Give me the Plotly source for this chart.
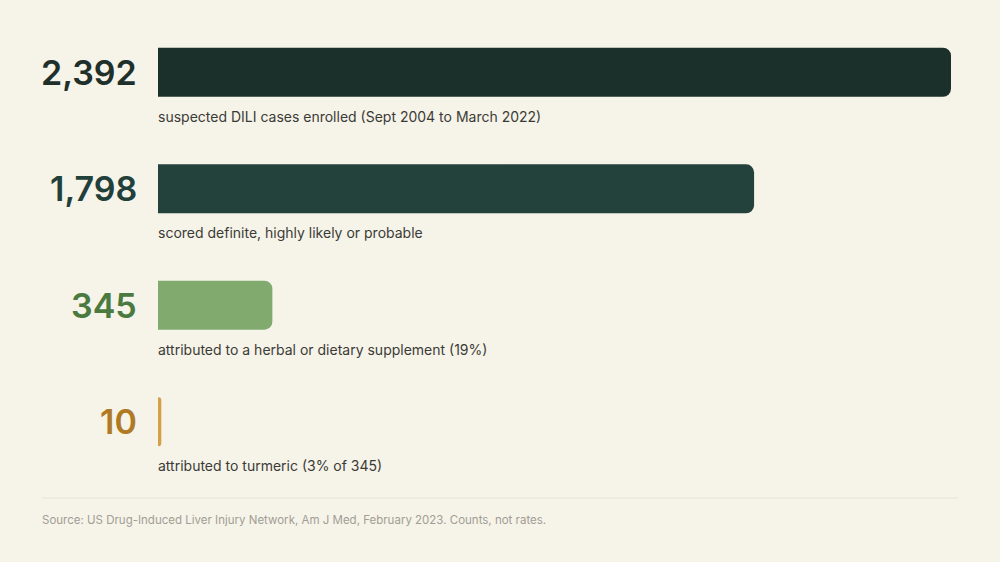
import plotly.graph_objects as go

# funnel of DILI cases
stages = ["enrolled", "scored", "supplement", "turmeric"]
counts = [2392, 1798, 345, 10]
count_labels = ["2,392", "1,798", "345", "10"]
captions = [
    "suspected DILI cases enrolled (Sept 2004 to March 2022)",
    "scored definite, highly likely or probable",
    "attributed to a herbal or dietary supplement (19%)",
    "attributed to turmeric (3% of 345)",
]
bar_colors = ["#1c302b", "#23423b", "#80aa6e", "#d4a04a"]
num_colors = ["#1f302b", "#22403a", "#4a7a3f", "#b07a25"]

W, H = 1000, 562
L, R, T, B = 158, 49, 14, 82
plot_h = H - T - B

fig = go.Figure(go.Bar(
    x=counts,
    y=stages,
    orientation="h",
    marker=dict(color=bar_colors, line=dict(width=0)),
    hoverinfo="skip",
))

for i, s in enumerate(stages):
    fig.add_annotation(
        x=0, y=s, xref="x", yref="y", text=count_labels[i],
        xanchor="right", yanchor="middle", xshift=-19, showarrow=False,
        font=dict(family="Inter", size=34, color=num_colors[i], weight=600),
    )
    fig.add_annotation(
        x=0, y=s, xref="x", yref="y", text=captions[i],
        xanchor="left", yanchor="middle", yshift=-44, xshift=-2, showarrow=False,
        font=dict(family="Inter", size=14, color="#3b3b36"),
    )

def px_x(p):
    return (p - L) / (W - L - R)

def px_y(p):
    return (H - B - p) / plot_h

fig.add_shape(
    type="line", xref="paper", yref="paper",
    x0=px_x(42), x1=px_x(958), y0=px_y(498), y1=px_y(498),
    line=dict(color="#e6e2d6", width=1),
)
fig.add_annotation(
    x=px_x(40), y=px_y(520), xref="paper", yref="paper",
    text="Source: US Drug-Induced Liver Injury Network, Am J Med, February 2023. Counts, not rates.",
    xanchor="left", yanchor="middle", showarrow=False,
    font=dict(family="Inter", size=11.5, color="#a19e94"),
)

fig.update_layout(
    width=W, height=H,
    margin=dict(l=L, r=R, t=T, b=B),
    paper_bgcolor="#f6f3e9",
    plot_bgcolor="#f6f3e9",
    bargap=0.58,
    barcornerradius=8,
    showlegend=False,
    xaxis=dict(range=[0, 2392], visible=False, fixedrange=True),
    yaxis=dict(categoryorder="array", categoryarray=stages, autorange="reversed",
               visible=False, fixedrange=True),
)

fig.write_html(
    "out.html",
    config={"displayModeBar": False},
    post_script="document.body.style.margin='0';document.body.style.overflow='hidden';",
)
